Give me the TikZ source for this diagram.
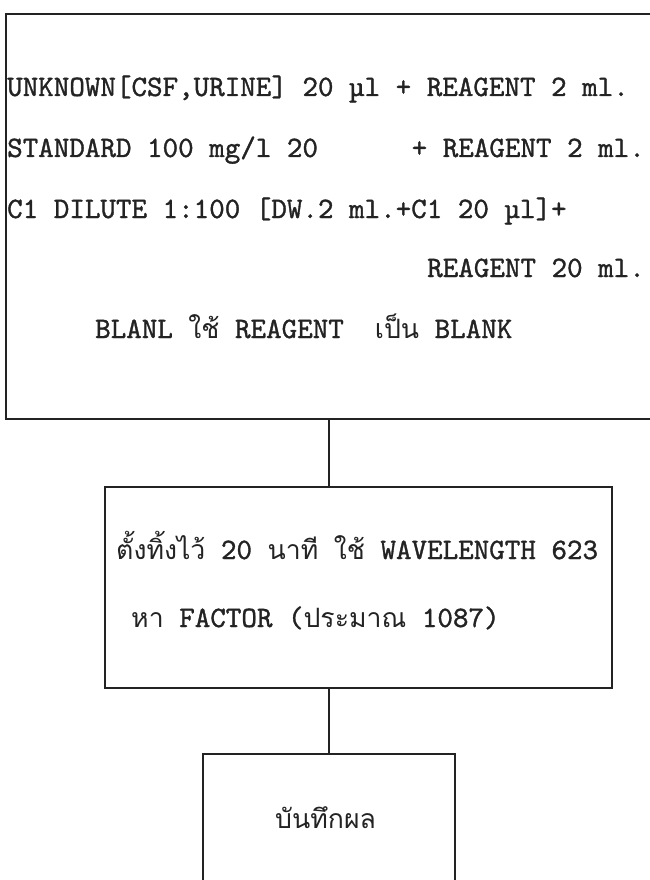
\documentclass[tikz,border=0pt]{standalone}
\usepackage{fontspec}
\setmainfont{lmmono10-regular.otf}[FakeBold=1.2]
\newfontfamily\thaifont[Script=Thai,Scale=0.9]{Loma}
\newcommand\thtxt[1]{{\thaifont #1}}
\usepackage{xcolor}
\definecolor{ink}{RGB}{35,35,35}

\begin{document}
\begin{tikzpicture}[x=1pt,y=-1pt,
  box/.style={draw=ink,line width=1.6pt,anchor=north west,inner sep=0pt},
  link/.style={draw=ink,line width=1.6pt},
  txt/.style={anchor=base west,inner sep=0pt,text=ink,font=\fontsize{29.6}{34}\selectfont},
  txtr/.style={txt,anchor=base east}]
  \useasboundingbox (0,0) rectangle (649,880);
  % boxes (top and bottom run off the page)
  \node[box,minimum width=660,minimum height=405] (mix) at (5,13) {};
  \node[box,minimum width=507,minimum height=201] (read) at (104,486) {};
  \node[box,minimum width=252,minimum height=200] (rec) at (202,753) {};
  % connectors
  \draw[link] (mix.south -| rec.north) -- (read.north -| rec.north);
  \draw[link] (read.south -| rec.north) -- (rec.north);
  % first box
  \foreach \n/\y/\t in {1/96/{UNKNOWN[CSF,URINE] 20 µl + REAGENT 2 ml.},
                        2/157/{STANDARD 100 mg/l 20},
                        3/218/{C1 DILUTE 1:100 [DW.2 ml.+C1 20 µl]+}}
    \node[txt] (l\n) at (7,\y) {\t};
  \node[txtr] (l2b) at (645,157) {+ REAGENT 2 ml.};
  \node[txtr] (l4) at (645,277) {REAGENT 20 ml.};
  \node[txt] (l5) at (95,338) {BLANL \thtxt{ใช้} REAGENT\ \ \thtxt{เป็น} BLANK};
  % second box
  \node[txt] (m1) at (116,559) {\thtxt{ตั้งทิ้งไว้} 20 \thtxt{นาที} \thtxt{ใช้} WAVELENGTH 623};
  \node[txt] (m2) at (131,627) {\thtxt{หา} FACTOR (\thtxt{ประมาณ} 1087)};
  % last box
  \node[txt] (r1) at (275,828) {\thtxt{บันทึกผล}};
\end{tikzpicture}
\end{document}
